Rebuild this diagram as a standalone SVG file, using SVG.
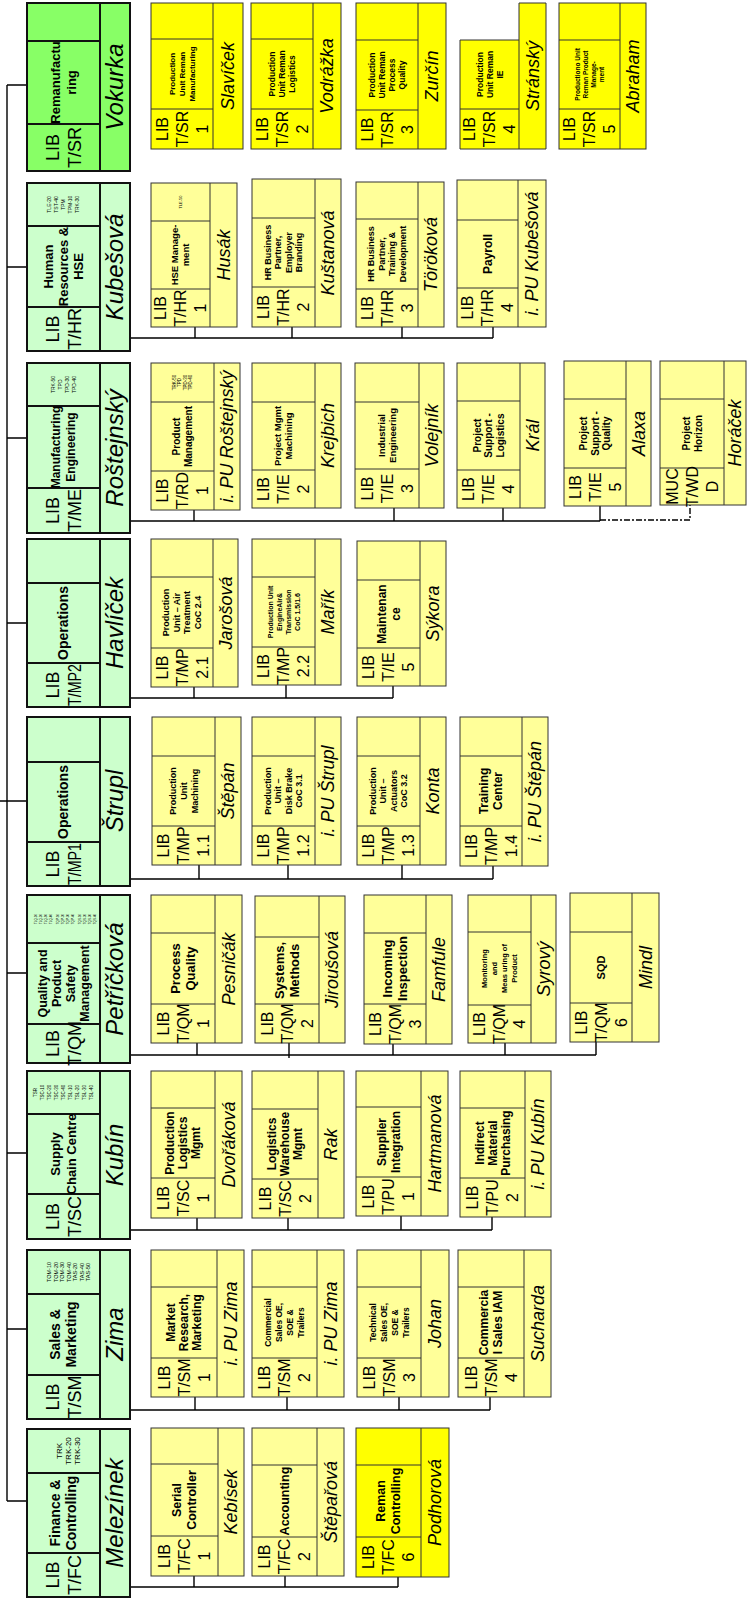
<svg xmlns="http://www.w3.org/2000/svg" width="747" height="1599" viewBox="0 0 747 1599">
<style>
.hd{fill:#ccffcc;stroke:#111;stroke-width:2}
.hv{fill:#88ff66}
.sb{fill:#ffff99;stroke:#333;stroke-width:1}
.sy{fill:#ffff00}
.ln{stroke:#111;stroke-width:2;fill:none}
.sl{stroke:#333;stroke-width:1;fill:none}
.cn{stroke:#000;stroke-width:1.4;fill:none}
.dd{stroke:#000;stroke-width:1.4;fill:none;stroke-dasharray:6 2 2 2}
text{font-family:"Liberation Sans",Arial,sans-serif;fill:#000;text-anchor:middle}
.hn{font-style:italic;font-size:24px}
.n{font-style:italic;font-size:18px}
.hl{font-size:18px}
.l{font-size:16px}
.t{font-weight:bold}
.k{font-size:5px}
</style>
<rect x="0" y="0" width="747" height="1599" fill="#fff"/>

<g id="connectors">
<path class="cn" d="M7 85V1501M7 85H27M7 267H27M7 438H27M7 623H27M0 801H27M7 973H27M7 1153H27M7 1329H27M7 1501H27"/>
<path class="cn" d="M130 338H493M195 327V338M292 327V338M402 327V338M493 327V338"/>
<path class="cn" d="M130 521H600M194 510V521M394 508V521M503 508V521M600 506V521"/>
<path class="dd" d="M600 520H690V505"/>
<path class="cn" d="M130 698H393M194 687V698M286 685V698M393 686V698"/>
<path class="cn" d="M130 879H493M199 865V879M288 865V879M402 865V879M493 866V879"/>
<path class="cn" d="M130 1055H596M197 1043V1055M289 1043V1058M393 1044V1055M505 1043V1055M596 1042V1055"/>
<path class="cn" d="M130 1230H492M197 1218V1230M288 1218V1230M401 1216V1230M492 1217V1230"/>
<path class="cn" d="M130 1410H490M195 1397V1410M287 1397V1410M399 1397V1410M490 1397V1410"/>
<path class="cn" d="M130 1587H398M194 1576V1587M285 1576V1587M398 1577V1587"/>
</g>

<!-- ===== HEADERS ===== -->
<g id="h-vokurka">
<rect class="hd hv" x="27" y="3" width="103" height="168"/>
<path class="ln" d="M100 3V171M27 41H100M27 124H100"/>
<text class="t" font-size="13" transform="translate(63.5,82.5) rotate(-90)"><tspan x="0" y="-3.5">Remanufactu</tspan><tspan x="0" y="12.5">ring</tspan></text>
<text class="hl" transform="translate(63.5,147.5) rotate(-90)"><tspan x="0" y="-4.7">LIB</tspan><tspan x="0" y="17.3">T/SR</tspan></text>
<text class="hn" transform="translate(115,87) rotate(-90)"><tspan x="0" y="8.4">Vokurka</tspan></text>
</g>

<g id="h-kubesova">
<rect class="hd" x="27" y="183" width="103" height="168"/>
<path class="ln" d="M100 183V351M27 226H100M27 307H100"/>
<text class="k" transform="translate(63.5,204.5) rotate(-90)"><tspan x="0" y="-12.3">TLE-20</tspan><tspan x="0" y="-5.3">TST-40</tspan><tspan x="0" y="1.7">TPM</tspan><tspan x="0" y="8.7">TPM-10</tspan><tspan x="0" y="15.7">TRK-30</tspan></text>
<text class="t" font-size="13" transform="translate(63.5,266.5) rotate(-90)"><tspan x="0" y="-10.5">Human</tspan><tspan x="0" y="4.5">Resources &amp;</tspan><tspan x="0" y="19.5">HSE</tspan></text>
<text class="hl" transform="translate(63.5,329) rotate(-90)"><tspan x="0" y="-4.7">LIB</tspan><tspan x="0" y="17.3">T/HR</tspan></text>
<text class="hn" transform="translate(115,267) rotate(-90)"><tspan x="0" y="8.4">Kubešová</tspan></text>
</g>

<g id="h-rostejnsky">
<rect class="hd" x="27" y="363" width="103" height="170"/>
<path class="ln" d="M100 363V533M27 406H100M27 488H100"/>
<text class="k" transform="translate(63.5,384.5) rotate(-90)"><tspan x="0" y="-8.8">TRK-50</tspan><tspan x="0" y="-1.8">TPD</tspan><tspan x="0" y="5.2">TPD-30</tspan><tspan x="0" y="12.2">TPD-40</tspan></text>
<text class="t" font-size="12" transform="translate(63.5,447) rotate(-90)"><tspan x="0" y="-3.3">Manufacturing</tspan><tspan x="0" y="11.7">Engineering</tspan></text>
<text class="hl" transform="translate(63.5,510.5) rotate(-90)"><tspan x="0" y="-4.7">LIB</tspan><tspan x="0" y="17.3">T/ME</tspan></text>
<text class="hn" transform="translate(115,448) rotate(-90)"><tspan x="0" y="8.4">Roštejnský</tspan></text>
</g>

<g id="h-havlicek">
<rect class="hd" x="27" y="539" width="103" height="168"/>
<path class="ln" d="M100 539V707M27 583H100M27 663H100"/>
<text class="t" font-size="14" transform="translate(63.5,623) rotate(-90)"><tspan x="0" y="4.9">Operations</tspan></text>
<text class="hl" transform="translate(63.5,685) rotate(-90)"><tspan x="0" y="-4.7">LIB</tspan><tspan x="0" y="17.3" textLength="42" lengthAdjust="spacingAndGlyphs">T/MP2</tspan></text>
<text class="hn" transform="translate(115,623) rotate(-90)"><tspan x="0" y="8.4">Havlíček</tspan></text>
</g>

<g id="h-strupl">
<rect class="hd" x="27" y="717" width="103" height="169"/>
<path class="ln" d="M100 717V886M27 762H100M27 842H100"/>
<text class="t" font-size="14" transform="translate(63.5,802) rotate(-90)"><tspan x="0" y="4.9">Operations</tspan></text>
<text class="hl" transform="translate(63.5,864) rotate(-90)"><tspan x="0" y="-4.7">LIB</tspan><tspan x="0" y="17.3" textLength="42" lengthAdjust="spacingAndGlyphs">T/MP1</tspan></text>
<text class="hn" transform="translate(115,801) rotate(-90)"><tspan x="0" y="8.4">Štrupl</tspan></text>
</g>

<g id="h-petrickova">
<rect class="hd" x="27" y="895" width="103" height="168"/>
<path class="ln" d="M100 895V1063M27 943H100M27 1024H100"/>
<text font-size="3" transform="translate(63.5,919) rotate(-90)"><tspan x="0" y="-26.5">TLQ-10</tspan><tspan x="0" y="-21.5">TLQ-20</tspan><tspan x="0" y="-16.5">TLQ-30</tspan><tspan x="0" y="-11.5">TLQ-40</tspan><tspan x="0" y="-4.5">TQP-10</tspan><tspan x="0" y="0.5">TQP-20</tspan><tspan x="0" y="5.5">TQP-30</tspan><tspan x="0" y="10.5">TQP-40</tspan><tspan x="0" y="17.5">TQS-10</tspan><tspan x="0" y="22.5">TQS-20</tspan><tspan x="0" y="27.5">TQS-30</tspan><tspan x="0" y="32.5">TQS-40</tspan></text>
<text class="t" font-size="12.5" transform="translate(63.5,983.5) rotate(-90)"><tspan x="0" y="-16.6">Quality and</tspan><tspan x="0" y="-2.6">Product</tspan><tspan x="0" y="11.4">Safety</tspan><tspan x="0" y="25.4">Management</tspan></text>
<text class="hl" transform="translate(63.5,1043.5) rotate(-90)"><tspan x="0" y="-4.7">LIB</tspan><tspan x="0" y="17.3">T/QM</tspan></text>
<text class="hn" transform="translate(115,979) rotate(-90)"><tspan x="0" y="8.4">Petříčková</tspan></text>
</g>

<g id="h-kubin">
<rect class="hd" x="27" y="1071" width="103" height="168"/>
<path class="ln" d="M100 1071V1239M27 1114H100M27 1194H100"/>
<text font-size="4.5" transform="translate(63.5,1092.5) rotate(-90)"><tspan x="0" y="-26.4">TSR</tspan><tspan x="0" y="-19.4">TSC-10</tspan><tspan x="0" y="-12.4">TSC-20</tspan><tspan x="0" y="-5.4">TSC-30</tspan><tspan x="0" y="1.6">TSC-40</tspan><tspan x="0" y="8.6">TSL-10</tspan><tspan x="0" y="15.6">TSL-20</tspan><tspan x="0" y="22.6">TSL-30</tspan><tspan x="0" y="29.6">TSL-40</tspan></text>
<text class="t" font-size="13" transform="translate(63.5,1154) rotate(-90)"><tspan x="0" y="-3.5">Supply</tspan><tspan x="0" y="12.5">Chain Centre</tspan></text>
<text class="hl" transform="translate(63.5,1216.5) rotate(-90)"><tspan x="0" y="-4.7">LIB</tspan><tspan x="0" y="17.3">T/SC</tspan></text>
<text class="hn" transform="translate(115,1155) rotate(-90)"><tspan x="0" y="8.4">Kubín</tspan></text>
</g>

<g id="h-zima">
<rect class="hd" x="27" y="1250" width="103" height="169"/>
<path class="ln" d="M100 1250V1419M27 1294H100M27 1375H100"/>
<text font-size="5.5" transform="translate(70,1272) rotate(-90)"><tspan x="0" y="-19">TOM-10</tspan><tspan x="0" y="-12.5">TOM-20</tspan><tspan x="0" y="-6">TOM-30</tspan><tspan x="0" y="0.5">TOM-40</tspan><tspan x="0" y="7">TAS-20</tspan><tspan x="0" y="13.5">TAS-40</tspan><tspan x="0" y="20">TAS-50</tspan></text>
<text class="t" font-size="14" transform="translate(63.5,1334.5) rotate(-90)"><tspan x="0" y="-3.1">Sales &amp;</tspan><tspan x="0" y="12.9">Marketing</tspan></text>
<text class="hl" transform="translate(63.5,1397) rotate(-90)"><tspan x="0" y="-4.7">LIB</tspan><tspan x="0" y="17.3">T/SM</tspan></text>
<text class="hn" transform="translate(115,1334) rotate(-90)"><tspan x="0" y="8.4">Zima</tspan></text>
</g>

<g id="h-melezinek">
<rect class="hd" x="27" y="1429" width="103" height="168"/>
<path class="ln" d="M100 1429V1597M27 1473H100M27 1553H100"/>
<text font-size="8" transform="translate(68,1451) rotate(-90)"><tspan x="0" y="-6.2">TRK</tspan><tspan x="0" y="2.8">TRK-20</tspan><tspan x="0" y="11.8">TRK-30</tspan></text>
<text class="t" font-size="14" transform="translate(63.5,1513) rotate(-90)"><tspan x="0" y="-3.1">Finance &amp;</tspan><tspan x="0" y="12.9">Controlling</tspan></text>
<text class="hl" transform="translate(63.5,1575) rotate(-90)"><tspan x="0" y="-4.7">LIB</tspan><tspan x="0" y="17.3">T/FC</tspan></text>
<text class="hn" transform="translate(115,1513) rotate(-90)"><tspan x="0" y="8.4">Melezínek</tspan></text>
</g>

<!-- ===== ROW 1 ===== -->
<g id="sr1">
<rect class="sb sy" x="151" y="3" width="92" height="146"/>
<path class="sl" d="M213 3V149M151 39H213M151 109H213"/>
<text class="t" font-size="8" transform="translate(182,74) rotate(-90)"><tspan x="0" y="-7.2">Production</tspan><tspan x="0" y="2.8">Unit Reman</tspan><tspan x="0" y="12.8">Manufacturing</tspan></text>
<text class="l" transform="translate(182,129) rotate(-90)"><tspan x="0" y="-14.4">LIB</tspan><tspan x="0" y="5.6">T/SR</tspan><tspan x="0" y="25.6">1</tspan></text>
<text class="n" transform="translate(228,76) rotate(-90)"><tspan x="0" y="6.3">Slavíček</tspan></text>
</g>
<g id="sr2">
<rect class="sb sy" x="251" y="3" width="90" height="146"/>
<path class="sl" d="M313 3V149M251 39H313M251 109H313"/>
<text class="t" font-size="8.5" transform="translate(282,74) rotate(-90)"><tspan x="0" y="-7">Production</tspan><tspan x="0" y="3">Unit Reman</tspan><tspan x="0" y="13">Logistics</tspan></text>
<text class="l" transform="translate(282,129) rotate(-90)"><tspan x="0" y="-14.4">LIB</tspan><tspan x="0" y="5.6">T/SR</tspan><tspan x="0" y="25.6">2</tspan></text>
<text class="n" transform="translate(327,76) rotate(-90)"><tspan x="0" y="6.3">Vodrážka</tspan></text>
</g>
<g id="sr3">
<rect class="sb sy" x="356" y="3" width="90" height="146"/>
<path class="sl" d="M418 3V149M356 40H418M356 110H418"/>
<text class="t" font-size="8.5" transform="translate(387,75) rotate(-90)"><tspan x="0" y="-12">Production</tspan><tspan x="0" y="-2">Unit Reman</tspan><tspan x="0" y="8">Process</tspan><tspan x="0" y="18">Quality</tspan></text>
<text class="l" transform="translate(387,129.5) rotate(-90)"><tspan x="0" y="-14.4">LIB</tspan><tspan x="0" y="5.6">T/SR</tspan><tspan x="0" y="25.6">3</tspan></text>
<text class="n" transform="translate(432,76) rotate(-90)"><tspan x="0" y="6.3">Zurčín</tspan></text>
</g>
<g id="sr4">
<path class="sb sy" d="M460 40H519V3H546V149H460Z"/>
<path class="sl" d="M519 40V149M460 109H519"/>
<text class="t" font-size="8.5" transform="translate(489.5,74.5) rotate(-90)"><tspan x="0" y="-7">Production</tspan><tspan x="0" y="3">Unit Reman</tspan><tspan x="0" y="13">IE</tspan></text>
<text class="l" transform="translate(489.5,129) rotate(-90)"><tspan x="0" y="-14.4">LIB</tspan><tspan x="0" y="5.6">T/SR</tspan><tspan x="0" y="25.6">4</tspan></text>
<text class="n" transform="translate(532.5,76) rotate(-90)"><tspan x="0" y="6.3">Stránský</tspan></text>
</g>
<g id="sr5">
<rect class="sb sy" x="559" y="3" width="87" height="146"/>
<path class="sl" d="M620 3V149M559 40H620M559 109H620"/>
<text class="t" font-size="6.5" transform="translate(589.5,74.5) rotate(-90)"><tspan x="0" y="-9.7">Productiono Unit</tspan><tspan x="0" y="-1.7">Reman Product</tspan><tspan x="0" y="6.3">Manage-</tspan><tspan x="0" y="14.3">ment</tspan></text>
<text class="l" transform="translate(589.5,129) rotate(-90)"><tspan x="0" y="-14.4">LIB</tspan><tspan x="0" y="5.6">T/SR</tspan><tspan x="0" y="25.6">5</tspan></text>
<text class="n" transform="translate(633,76) rotate(-90)"><tspan x="0" y="6.3">Abraham</tspan></text>
</g>

<!-- ===== ROW 2 ===== -->
<g id="hr1">
<rect class="sb" x="151" y="183" width="86" height="144"/>
<path class="sl" d="M210 183V327M151 221H210M151 289H210"/>
<text font-size="4" transform="translate(180.5,202) rotate(-90)"><tspan x="0" y="1.4">TLE-50</tspan></text>
<text class="t" font-size="9.5" transform="translate(180.5,255) rotate(-90)"><tspan x="0" y="-2.2">HSE Manage-</tspan><tspan x="0" y="8.8">ment</tspan></text>
<text class="l" transform="translate(180.5,308) rotate(-90)"><tspan x="0" y="-14.4">LIB</tspan><tspan x="0" y="5.6">T/HR</tspan><tspan x="0" y="25.6">1</tspan></text>
<text class="n" transform="translate(223.5,255) rotate(-90)"><tspan x="0" y="6.3">Husák</tspan></text>
</g>
<g id="hr2">
<rect class="sb" x="252" y="179" width="89" height="148"/>
<path class="sl" d="M315 179V327M252 218H315M252 287H315"/>
<text class="t" font-size="9" transform="translate(283.5,252.5) rotate(-90)"><tspan x="0" y="-12.6">HR Business</tspan><tspan x="0" y="-2.1">Partner,</tspan><tspan x="0" y="8.4">Employer</tspan><tspan x="0" y="18.9">Branding</tspan></text>
<text class="l" transform="translate(283.5,307) rotate(-90)"><tspan x="0" y="-14.4">LIB</tspan><tspan x="0" y="5.6">T/HR</tspan><tspan x="0" y="25.6">2</tspan></text>
<text class="n" transform="translate(328,253) rotate(-90)"><tspan x="0" y="6.3">Kuštanová</tspan></text>
</g>
<g id="hr3">
<rect class="sb" x="356" y="182" width="88" height="145"/>
<path class="sl" d="M418 182V327M356 219H418M356 289H418"/>
<text class="t" font-size="9" transform="translate(387,254) rotate(-90)"><tspan x="0" y="-12.6">HR Business</tspan><tspan x="0" y="-2.1">Partner,</tspan><tspan x="0" y="8.4">Training &amp;</tspan><tspan x="0" y="18.9">Development</tspan></text>
<text class="l" transform="translate(387,308) rotate(-90)"><tspan x="0" y="-14.4">LIB</tspan><tspan x="0" y="5.6">T/HR</tspan><tspan x="0" y="25.6">3</tspan></text>
<text class="n" transform="translate(431,254.5) rotate(-90)"><tspan x="0" y="6.3">Töröková</tspan></text>
</g>
<g id="hr4">
<rect class="sb" x="457" y="180" width="89" height="147"/>
<path class="sl" d="M518 180V327M457 220H518M457 288H518"/>
<text class="t" font-size="12" transform="translate(487.5,254) rotate(-90)"><tspan x="0" y="4.2">Payroll</tspan></text>
<text class="l" transform="translate(487.5,307.5) rotate(-90)"><tspan x="0" y="-14.4">LIB</tspan><tspan x="0" y="5.6">T/HR</tspan><tspan x="0" y="25.6">4</tspan></text>
<text class="n" transform="translate(532,253.5) rotate(-90)"><tspan x="0" y="6.3">i. PU Kubešová</tspan></text>
</g>

<!-- ===== ROW 3 ===== -->
<g id="me1">
<rect class="sb" x="151" y="363" width="89" height="147"/>
<path class="sl" d="M214 363V510M151 402H214M151 471H214"/>
<text font-size="4.5" transform="translate(182.5,382.5) rotate(-90)"><tspan x="0" y="-6.6">TRK-50</tspan><tspan x="0" y="-1.1">TPD</tspan><tspan x="0" y="4.4">TPD-30</tspan><tspan x="0" y="9.9">TPD-40</tspan></text>
<text class="t" font-size="10" transform="translate(182.5,436.5) rotate(-90)"><tspan x="0" y="-2.5">Product</tspan><tspan x="0" y="9.5">Management</tspan></text>
<text class="l" transform="translate(182.5,490.5) rotate(-90)"><tspan x="0" y="-14.4">LIB</tspan><tspan x="0" y="5.6">T/RD</tspan><tspan x="0" y="25.6">1</tspan></text>
<text class="n" transform="translate(227,436.5) rotate(-90)"><tspan x="0" y="6.3">i. PU Roštejnský</tspan></text>
</g>
<g id="me2">
<rect class="sb" x="252" y="363" width="89" height="145"/>
<path class="sl" d="M315 363V508M252 402H315M252 470H315"/>
<text class="t" font-size="9.5" transform="translate(283.5,436) rotate(-90)"><tspan x="0" y="-2.2">Project Mgmt</tspan><tspan x="0" y="8.8">Machining</tspan></text>
<text class="l" transform="translate(283.5,489) rotate(-90)"><tspan x="0" y="-14.4">LIB</tspan><tspan x="0" y="5.6">T/IE</tspan><tspan x="0" y="25.6">2</tspan></text>
<text class="n" transform="translate(328,435.5) rotate(-90)"><tspan x="0" y="6.3">Krejbich</tspan></text>
</g>
<g id="me3">
<rect class="sb" x="355" y="363" width="89" height="145"/>
<path class="sl" d="M419 363V508M355 402H419M355 469H419"/>
<text class="t" font-size="9.5" transform="translate(387,435.5) rotate(-90)"><tspan x="0" y="-2.2">Industrial</tspan><tspan x="0" y="8.8">Engineering</tspan></text>
<text class="l" transform="translate(387,488.5) rotate(-90)"><tspan x="0" y="-14.4">LIB</tspan><tspan x="0" y="5.6">T/IE</tspan><tspan x="0" y="25.6">3</tspan></text>
<text class="n" transform="translate(431.5,435.5) rotate(-90)"><tspan x="0" y="6.3">Volejník</tspan></text>
</g>
<g id="me4">
<rect class="sb" x="457" y="363" width="88" height="145"/>
<path class="sl" d="M520 363V508M457 401H520M457 470H520"/>
<text class="t" font-size="10" transform="translate(488.5,435.5) rotate(-90)"><tspan x="0" y="-8">Project</tspan><tspan x="0" y="3.5">Support -</tspan><tspan x="0" y="15">Logistics</tspan></text>
<text class="l" transform="translate(488.5,489) rotate(-90)"><tspan x="0" y="-14.4">LIB</tspan><tspan x="0" y="5.6">T/IE</tspan><tspan x="0" y="25.6">4</tspan></text>
<text class="n" transform="translate(532.5,435.5) rotate(-90)"><tspan x="0" y="6.3">Král</tspan></text>
</g>
<g id="me5">
<rect class="sb" x="564" y="361" width="87" height="145"/>
<path class="sl" d="M626 361V506M564 399H626M564 468H626"/>
<text class="t" font-size="10" transform="translate(595,433.5) rotate(-90)"><tspan x="0" y="-8">Project</tspan><tspan x="0" y="3.5">Support -</tspan><tspan x="0" y="15">Quality</tspan></text>
<text class="l" transform="translate(595,487) rotate(-90)"><tspan x="0" y="-14.4">LIB</tspan><tspan x="0" y="5.6">T/IE</tspan><tspan x="0" y="25.6">5</tspan></text>
<text class="n" transform="translate(638.5,433.5) rotate(-90)"><tspan x="0" y="6.3">Alaxa</tspan></text>
</g>
<g id="me6">
<rect class="sb" x="660" y="361" width="86" height="144"/>
<path class="sl" d="M724 361V505M660 399H724M660 468H724"/>
<text class="t" font-size="10" transform="translate(692,433.5) rotate(-90)"><tspan x="0" y="-2.5">Project</tspan><tspan x="0" y="9.5">Horizon</tspan></text>
<text class="l" transform="translate(692,486.5) rotate(-90)"><tspan x="0" y="-14.4">MUC</tspan><tspan x="0" y="5.6">T/WD</tspan><tspan x="0" y="25.6">D</tspan></text>
<text class="n" transform="translate(735,433) rotate(-90)"><tspan x="0" y="6.3">Horáček</tspan></text>
</g>

<!-- ===== ROW 4 ===== -->
<g id="mp2-1">
<rect class="sb" x="151" y="539" width="87" height="148"/>
<path class="sl" d="M213 539V687M151 577H213M151 648H213"/>
<text class="t" font-size="9" transform="translate(182,612.5) rotate(-90)"><tspan x="0" y="-12.6">Production</tspan><tspan x="0" y="-2.1">Unit – Air</tspan><tspan x="0" y="8.4">Treatment</tspan><tspan x="0" y="18.9">CoC 2.4</tspan></text>
<text class="l" transform="translate(182,667.5) rotate(-90)"><tspan x="0" y="-14.4">LIB</tspan><tspan x="0" y="5.6">T/MP</tspan><tspan x="0" y="25.6">2.1</tspan></text>
<text class="n" transform="translate(225.5,613) rotate(-90)"><tspan x="0" y="6.3">Jarošová</tspan></text>
</g>
<g id="mp2-2">
<rect class="sb" x="252" y="539" width="89" height="146"/>
<path class="sl" d="M315 539V685M252 577H315M252 647H315"/>
<text class="t" font-size="7" transform="translate(283.5,612) rotate(-90)"><tspan x="0" y="-11">Production Unit</tspan><tspan x="0" y="-2">EngineAir&amp;</tspan><tspan x="0" y="7">Transmission</tspan><tspan x="0" y="16">CoC 1.5/1.6</tspan></text>
<text class="l" transform="translate(283.5,666) rotate(-90)"><tspan x="0" y="-14.4">LIB</tspan><tspan x="0" y="5.6">T/MP</tspan><tspan x="0" y="25.6">2.2</tspan></text>
<text class="n" transform="translate(328,612) rotate(-90)"><tspan x="0" y="6.3">Mařík</tspan></text>
</g>
<g id="mp2-5">
<rect class="sb" x="357" y="541" width="89" height="145"/>
<path class="sl" d="M420 541V686M357 580H420M357 648H420"/>
<text class="t" font-size="12" transform="translate(388.5,614) rotate(-90)"><tspan x="0" y="-2.8">Maintenan</tspan><tspan x="0" y="11.2">ce</tspan></text>
<text class="l" transform="translate(388.5,667) rotate(-90)"><tspan x="0" y="-14.4">LIB</tspan><tspan x="0" y="5.6">T/IE</tspan><tspan x="0" y="25.6">5</tspan></text>
<text class="n" transform="translate(433,613.5) rotate(-90)"><tspan x="0" y="6.3">Sýkora</tspan></text>
</g>

<!-- ===== ROW 5 ===== -->
<g id="mp1-1">
<rect class="sb" x="152" y="717" width="89" height="148"/>
<path class="sl" d="M215 717V865M152 756H215M152 826H215"/>
<text class="t" font-size="9" transform="translate(183.5,791) rotate(-90)"><tspan x="0" y="-7.8">Production</tspan><tspan x="0" y="3.2">Unit</tspan><tspan x="0" y="14.2">Machining</tspan></text>
<text class="l" transform="translate(183.5,845.5) rotate(-90)"><tspan x="0" y="-14.4">LIB</tspan><tspan x="0" y="5.6">T/MP</tspan><tspan x="0" y="25.6">1.1</tspan></text>
<text class="n" transform="translate(228,791) rotate(-90)"><tspan x="0" y="6.3">Štěpán</tspan></text>
</g>
<g id="mp1-2">
<rect class="sb" x="252" y="717" width="89" height="148"/>
<path class="sl" d="M315 717V865M252 756H315M252 826H315"/>
<text class="t" font-size="9" transform="translate(283.5,791) rotate(-90)"><tspan x="0" y="-12.6">Production</tspan><tspan x="0" y="-2.1">Unit –</tspan><tspan x="0" y="8.4">Disk Brake</tspan><tspan x="0" y="18.9">CoC 3.1</tspan></text>
<text class="l" transform="translate(283.5,845.5) rotate(-90)"><tspan x="0" y="-14.4">LIB</tspan><tspan x="0" y="5.6">T/MP</tspan><tspan x="0" y="25.6">1.2</tspan></text>
<text class="n" transform="translate(328,791) rotate(-90)"><tspan x="0" y="6.3">i. PU Štrupl</tspan></text>
</g>
<g id="mp1-3">
<rect class="sb" x="357" y="717" width="89" height="148"/>
<path class="sl" d="M420 717V865M357 756H420M357 826H420"/>
<text class="t" font-size="9" transform="translate(388.5,791) rotate(-90)"><tspan x="0" y="-12.6">Production</tspan><tspan x="0" y="-2.1">Unit –</tspan><tspan x="0" y="8.4">Actuators</tspan><tspan x="0" y="18.9">CoC 3.2</tspan></text>
<text class="l" transform="translate(388.5,845.5) rotate(-90)"><tspan x="0" y="-14.4">LIB</tspan><tspan x="0" y="5.6">T/MP</tspan><tspan x="0" y="25.6">1.3</tspan></text>
<text class="n" transform="translate(433,791) rotate(-90)"><tspan x="0" y="6.3">Konta</tspan></text>
</g>
<g id="mp1-4">
<rect class="sb" x="460" y="717" width="88" height="149"/>
<path class="sl" d="M522 717V866M460 756H522M460 826H522"/>
<text class="t" font-size="12" transform="translate(491,791) rotate(-90)"><tspan x="0" y="-2.8">Training</tspan><tspan x="0" y="11.2">Center</tspan></text>
<text class="l" transform="translate(491,846) rotate(-90)"><tspan x="0" y="-14.4">LIB</tspan><tspan x="0" y="5.6">T/MP</tspan><tspan x="0" y="25.6">1.4</tspan></text>
<text class="n" transform="translate(535,791.5) rotate(-90)"><tspan x="0" y="6.3">i. PU Štěpán</tspan></text>
</g>

<!-- ===== ROW 6 ===== -->
<g id="qm1">
<rect class="sb" x="151" y="895" width="91" height="148"/>
<path class="sl" d="M215 895V1043M151 933H215M151 1004H215"/>
<text class="t" font-size="13" transform="translate(183,968.5) rotate(-90)"><tspan x="0" y="-3">Process</tspan><tspan x="0" y="12">Quality</tspan></text>
<text class="l" transform="translate(183,1023.5) rotate(-90)"><tspan x="0" y="-14.4">LIB</tspan><tspan x="0" y="5.6">T/QM</tspan><tspan x="0" y="25.6">1</tspan></text>
<text class="n" transform="translate(228.5,969) rotate(-90)"><tspan x="0" y="6.3">Pesničák</tspan></text>
</g>
<g id="qm2">
<rect class="sb" x="255" y="896" width="90" height="147"/>
<path class="sl" d="M319 896V1043M255 937H319M255 1004H319"/>
<text class="t" font-size="13" transform="translate(287,970.5) rotate(-90)"><tspan x="0" y="-3">Systems,</tspan><tspan x="0" y="12">Methods</tspan></text>
<text class="l" transform="translate(287,1023.5) rotate(-90)"><tspan x="0" y="-14.4">LIB</tspan><tspan x="0" y="5.6">T/QM</tspan><tspan x="0" y="25.6">2</tspan></text>
<text class="n" transform="translate(332,969.5) rotate(-90)"><tspan x="0" y="6.3">Jiroušová</tspan></text>
</g>
<g id="qm3">
<rect class="sb" x="364" y="895" width="88" height="149"/>
<path class="sl" d="M426 895V1044M364 933H426M364 1004H426"/>
<text class="t" font-size="13" transform="translate(395,968.5) rotate(-90)"><tspan x="0" y="-3">Incoming</tspan><tspan x="0" y="12">Inspection</tspan></text>
<text class="l" transform="translate(395,1024) rotate(-90)"><tspan x="0" y="-14.4">LIB</tspan><tspan x="0" y="5.6">T/QM</tspan><tspan x="0" y="25.6">3</tspan></text>
<text class="n" transform="translate(439,969.5) rotate(-90)"><tspan x="0" y="6.3">Famfule</tspan></text>
</g>
<g id="qm4">
<rect class="sb" x="468" y="895" width="88" height="148"/>
<path class="sl" d="M531 895V1043M468 932H531M468 1005H531"/>
<text class="t" font-size="7.5" transform="translate(499.5,968.5) rotate(-90)"><tspan x="0" y="-12.4">Monitoring</tspan><tspan x="0" y="-2.4">and</tspan><tspan x="0" y="7.6">Meas uring of</tspan><tspan x="0" y="17.6">Product</tspan></text>
<text class="l" transform="translate(499.5,1024) rotate(-90)"><tspan x="0" y="-14.4">LIB</tspan><tspan x="0" y="5.6">T/QM</tspan><tspan x="0" y="25.6">4</tspan></text>
<text class="n" transform="translate(543.5,969) rotate(-90)"><tspan x="0" y="6.3">Syrový</tspan></text>
</g>
<g id="qm6">
<rect class="sb" x="570" y="893" width="89" height="149"/>
<path class="sl" d="M632 893V1042M570 932H632M570 1003H632"/>
<text class="t" font-size="11" transform="translate(601,967.5) rotate(-90)"><tspan x="0" y="3.9">SQD</tspan></text>
<text class="l" transform="translate(601,1022.5) rotate(-90)"><tspan x="0" y="-14.4">LIB</tspan><tspan x="0" y="5.6">T/QM</tspan><tspan x="0" y="25.6">6</tspan></text>
<text class="n" transform="translate(645.5,967.5) rotate(-90)"><tspan x="0" y="6.3">Mindl</tspan></text>
</g>

<!-- ===== ROW 7 ===== -->
<g id="sc1">
<rect class="sb" x="151" y="1071" width="91" height="147"/>
<path class="sl" d="M215 1071V1218M151 1108H215M151 1178H215"/>
<text class="t" font-size="12" transform="translate(183,1143) rotate(-90)"><tspan x="0" y="-8.8">Production</tspan><tspan x="0" y="4.2">Logistics</tspan><tspan x="0" y="17.2">Mgmt</tspan></text>
<text class="l" transform="translate(183,1198) rotate(-90)"><tspan x="0" y="-14.4">LIB</tspan><tspan x="0" y="5.6">T/SC</tspan><tspan x="0" y="25.6">1</tspan></text>
<text class="n" transform="translate(228.5,1144.5) rotate(-90)"><tspan x="0" y="6.3">Dvořáková</tspan></text>
</g>
<g id="sc2">
<rect class="sb" x="252" y="1071" width="92" height="147"/>
<path class="sl" d="M318 1071V1218M252 1109H318M252 1179H318"/>
<text class="t" font-size="12" transform="translate(285,1144) rotate(-90)"><tspan x="0" y="-8.8">Logistics</tspan><tspan x="0" y="4.2">Warehouse</tspan><tspan x="0" y="17.2">Mgmt</tspan></text>
<text class="l" transform="translate(285,1198.5) rotate(-90)"><tspan x="0" y="-14.4">LIB</tspan><tspan x="0" y="5.6">T/SC</tspan><tspan x="0" y="25.6">2</tspan></text>
<text class="n" transform="translate(331,1144.5) rotate(-90)"><tspan x="0" y="6.3">Rak</tspan></text>
</g>
<g id="pu1">
<rect class="sb" x="356" y="1071" width="92" height="145"/>
<path class="sl" d="M421 1071V1216M356 1107H421M356 1177H421"/>
<text class="t" font-size="12" transform="translate(388.5,1142) rotate(-90)"><tspan x="0" y="-2.8">Supplier</tspan><tspan x="0" y="11.2">Integration</tspan></text>
<text class="l" transform="translate(388.5,1196.5) rotate(-90)"><tspan x="0" y="-14.4">LIB</tspan><tspan x="0" y="5.6">T/PU</tspan><tspan x="0" y="25.6">1</tspan></text>
<text class="n" transform="translate(434.5,1143.5) rotate(-90)"><tspan x="0" y="6.3">Hartmanová</tspan></text>
</g>
<g id="pu2">
<rect class="sb" x="460" y="1071" width="91" height="146"/>
<path class="sl" d="M525 1071V1217M460 1108H525M460 1178H525"/>
<text class="t" font-size="12" transform="translate(492.5,1143) rotate(-90)"><tspan x="0" y="-8.8">Indirect</tspan><tspan x="0" y="4.2">Material</tspan><tspan x="0" y="17.2">Purchasing</tspan></text>
<text class="l" transform="translate(492.5,1197.5) rotate(-90)"><tspan x="0" y="-14.4">LIB</tspan><tspan x="0" y="5.6">T/PU</tspan><tspan x="0" y="25.6">2</tspan></text>
<text class="n" transform="translate(538,1144) rotate(-90)"><tspan x="0" y="6.3">i. PU Kubín</tspan></text>
</g>

<!-- ===== ROW 8 ===== -->
<g id="sm1">
<rect class="sb" x="151" y="1250" width="93" height="147"/>
<path class="sl" d="M217 1250V1397M151 1287H217M151 1358H217"/>
<text class="t" font-size="12" transform="translate(184,1322.5) rotate(-90)"><tspan x="0" y="-8.8">Market</tspan><tspan x="0" y="4.2">Research,</tspan><tspan x="0" y="17.2">Marketing</tspan></text>
<text class="l" transform="translate(184,1377.5) rotate(-90)"><tspan x="0" y="-14.4">LIB</tspan><tspan x="0" y="5.6">T/SM</tspan><tspan x="0" y="25.6">1</tspan></text>
<text class="n" transform="translate(230.5,1323.5) rotate(-90)"><tspan x="0" y="6.3">i. PU Zima</tspan></text>
</g>
<g id="sm2">
<rect class="sb" x="252" y="1250" width="92" height="147"/>
<path class="sl" d="M317 1250V1397M252 1287H317M252 1358H317"/>
<text class="t" font-size="8.5" transform="translate(284.5,1322.5) rotate(-90)"><tspan x="0" y="-13.5">Commercial</tspan><tspan x="0" y="-2.5">Sales OE,</tspan><tspan x="0" y="8.5">SOE &amp;</tspan><tspan x="0" y="19.5">Trailers</tspan></text>
<text class="l" transform="translate(284.5,1377.5) rotate(-90)"><tspan x="0" y="-14.4">LIB</tspan><tspan x="0" y="5.6">T/SM</tspan><tspan x="0" y="25.6">2</tspan></text>
<text class="n" transform="translate(330.5,1323.5) rotate(-90)"><tspan x="0" y="6.3">i. PU Zima</tspan></text>
</g>
<g id="sm3">
<rect class="sb" x="357" y="1250" width="92" height="147"/>
<path class="sl" d="M421 1250V1397M357 1287H421M357 1358H421"/>
<text class="t" font-size="8.5" transform="translate(389,1322.5) rotate(-90)"><tspan x="0" y="-13.5">Technical</tspan><tspan x="0" y="-2.5">Sales OE,</tspan><tspan x="0" y="8.5">SOE &amp;</tspan><tspan x="0" y="19.5">Trailers</tspan></text>
<text class="l" transform="translate(389,1377.5) rotate(-90)"><tspan x="0" y="-14.4">LIB</tspan><tspan x="0" y="5.6">T/SM</tspan><tspan x="0" y="25.6">3</tspan></text>
<text class="n" transform="translate(435,1323.5) rotate(-90)"><tspan x="0" y="6.3">Johan</tspan></text>
</g>
<g id="sm4">
<rect class="sb" x="458" y="1250" width="93" height="147"/>
<path class="sl" d="M524 1250V1397M458 1287H524M458 1358H524"/>
<text class="t" font-size="12" transform="translate(491,1322.5) rotate(-90)"><tspan x="0" y="-2.8">Commercia</tspan><tspan x="0" y="11.2">l Sales IAM</tspan></text>
<text class="l" transform="translate(491,1377.5) rotate(-90)"><tspan x="0" y="-14.4">LIB</tspan><tspan x="0" y="5.6">T/SM</tspan><tspan x="0" y="25.6">4</tspan></text>
<text class="n" transform="translate(537.5,1323.5) rotate(-90)"><tspan x="0" y="6.3">Sucharda</tspan></text>
</g>

<!-- ===== ROW 9 ===== -->
<g id="fc1">
<rect class="sb" x="151" y="1428" width="93" height="148"/>
<path class="sl" d="M218 1428V1576M151 1464H218M151 1536H218"/>
<text class="t" font-size="12.5" transform="translate(184.5,1500) rotate(-90)"><tspan x="0" y="-3.1">Serial</tspan><tspan x="0" y="11.9">Controller</tspan></text>
<text class="l" transform="translate(184.5,1556) rotate(-90)"><tspan x="0" y="-14.4">LIB</tspan><tspan x="0" y="5.6">T/FC</tspan><tspan x="0" y="25.6">1</tspan></text>
<text class="n" transform="translate(231,1502) rotate(-90)"><tspan x="0" y="6.3">Kebísek</tspan></text>
</g>
<g id="fc2">
<rect class="sb" x="252" y="1428" width="92" height="148"/>
<path class="sl" d="M317 1428V1576M252 1465H317M252 1537H317"/>
<text class="t" font-size="12.5" transform="translate(284.5,1501) rotate(-90)"><tspan x="0" y="4.4">Accounting</tspan></text>
<text class="l" transform="translate(284.5,1556.5) rotate(-90)"><tspan x="0" y="-14.4">LIB</tspan><tspan x="0" y="5.6">T/FC</tspan><tspan x="0" y="25.6">2</tspan></text>
<text class="n" transform="translate(330.5,1502) rotate(-90)"><tspan x="0" y="6.3">Štěpařová</tspan></text>
</g>
<g id="fc6">
<rect class="sb sy" x="356" y="1428" width="93" height="149"/>
<path class="sl" d="M421 1428V1577M356 1465H421M356 1537H421"/>
<text class="t" font-size="12.5" transform="translate(388.5,1501) rotate(-90)"><tspan x="0" y="-3.1">Reman</tspan><tspan x="0" y="11.9">Controlling</tspan></text>
<text class="l" transform="translate(388.5,1557) rotate(-90)"><tspan x="0" y="-14.4">LIB</tspan><tspan x="0" y="5.6">T/FC</tspan><tspan x="0" y="25.6">6</tspan></text>
<text class="n" transform="translate(435,1502.5) rotate(-90)"><tspan x="0" y="6.3">Podhorová</tspan></text>
</g>
</svg>
